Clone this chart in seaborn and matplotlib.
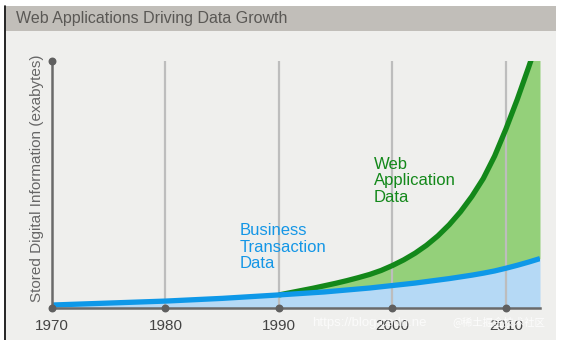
import matplotlib
matplotlib.use("Agg")
import matplotlib.pyplot as plt
import seaborn as sns
import pandas as pd
from matplotlib.patches import Rectangle
from matplotlib.lines import Line2D

# ---- data ----
years = [1970, 1975, 1980, 1985, 1990, 1991, 1992, 1993, 1994, 1995, 1996,
         1997, 1998, 1999, 2000, 2001, 2002, 2003, 2004, 2005, 2006, 2007,
         2008, 2009, 2010, 2011, 2012, 2013]
business = [1.2, 2.0, 2.8, 3.9, 5.3, 5.6, 5.9, 6.2, 6.5, 6.9, 7.3,
            7.7, 8.1, 8.6, 9.1, 9.6, 10.1, 10.7, 11.3, 11.9, 12.6, 13.3,
            14.1, 15.0, 16.1, 17.3, 18.6, 20.0]
web_years = [1990, 1991, 1992, 1993, 1994, 1995, 1996, 1997, 1998, 1999,
             2000, 2001, 2002, 2003, 2004, 2005, 2006, 2007, 2008, 2009,
             2010, 2011, 2012, 2013]
web = [5.3, 6.2, 7.1, 8.0, 9.0, 10.0, 11.1, 12.3, 13.6, 15.2,
       17.2, 19.5, 22.2, 25.4, 29.2, 33.7, 39.0, 45.2, 52.4, 61.5,
       72.5, 84.5, 97.5, 111.0]
tick_years = [1970, 1980, 1990, 2000, 2010]
title = "Web Applications Driving Data Growth"
ylabel = "Stored Digital Information (exabytes)"
label_business = "Business\nTransaction\nData"
label_web = "Web\nApplication\nData"

sns.set_theme(style="white")
plt.rcParams['font.family'] = ['Liberation Sans', 'Noto Sans CJK SC']

W, H = 567, 340
fig = plt.figure(figsize=(W / 100, H / 100), dpi=100, facecolor="white")

def fx(px):
    return px / W

def fy(py):
    return 1 - py / H

# panel background and title band
fig.patches.append(Rectangle((fx(6), 0), fx(556) - fx(6), fy(6), transform=fig.transFigure,
                             facecolor="#efefed", edgecolor="none", zorder=-5))
fig.patches.append(Rectangle((fx(6), fy(31)), fx(556) - fx(6), fy(6) - fy(31),
                             transform=fig.transFigure, facecolor="#c1beb9",
                             edgecolor="none", zorder=-4))
fig.lines.append(Line2D([fx(5), fx(5)], [0, fy(6)], transform=fig.transFigure,
                        color="black", lw=1.2, zorder=-3))
fig.text(fx(16), fy(18.5), title, fontsize=11.5, color="#5a5855", va="center", ha="left")

ax = fig.add_axes([fx(52), fy(308), fx(540) - fx(52), fy(61) - fy(308)])
ax.set_zorder(1)
ax.set_facecolor("none")
ax.patch.set_alpha(0)

df_b = pd.DataFrame({"year": years, "value": business})
df_w = pd.DataFrame({"year": web_years, "value": web})
bus_at_web = [business[years.index(y)] for y in web_years]

# fills
ax.fill_between(years, 0, business, color="#b5d9f5", lw=0, zorder=1)
ax.fill_between(web_years, bus_at_web, web, color="#94d07a", lw=0, zorder=1)

# vertical grid lines
for y in tick_years[1:]:
    ax.axvline(y, color="#bdbdbd", lw=1.6, zorder=2)

# lines
sns.lineplot(data=df_w, x="year", y="value", ax=ax, color="#13881a", lw=3.8,
             zorder=3, solid_capstyle="butt")
sns.lineplot(data=df_b, x="year", y="value", ax=ax, color="#0e98e8", lw=3.8,
             zorder=4, solid_capstyle="butt")

ax.set_xlim(1970, 2013.0)
ax.set_ylim(0, 100)

# spines
for s in ["top", "right"]:
    ax.spines[s].set_visible(False)
for s in ["left", "bottom"]:
    ax.spines[s].set_color("#6a6a6a")
    ax.spines[s].set_linewidth(1.8)
    ax.spines[s].set_zorder(5)

# dots
ax.scatter(tick_years, [0] * len(tick_years), s=22, color="#5f5f5f", zorder=6, clip_on=False)
ax.scatter([1970], [100], s=22, color="#5f5f5f", zorder=6, clip_on=False)

ax.set_xticks(tick_years)
ax.set_xticklabels([str(t) for t in tick_years], fontsize=11, color="#444444")
ax.tick_params(axis="x", length=0, pad=8)
ax.set_yticks([])
ax.set_xlabel("")
ax.set_ylabel(ylabel, fontsize=11, color="#666666")
ax.yaxis.set_label_coords(-0.016, 0.526)

# annotations
fig.text(fx(240), fy(247), label_business, fontsize=12, color="#1496e6",
         ha="left", va="center", linespacing=1.12)
fig.text(fx(374), fy(181), label_web, fontsize=12, color="#13881a",
         ha="left", va="center", linespacing=1.12)

# watermark
fig.text(fx(312), fy(323), "https://blog.csdn.ne", fontsize=9.5, color="white",
         alpha=0.75, ha="left", va="center")
fig.text(fx(452), fy(322), "@稀土掘金技术社区", fontsize=7.5,
         family=['Noto Sans CJK SC', 'DejaVu Sans'], color="white", alpha=0.85,
         ha="left", va="center")

fig.savefig("out.png", dpi=100, facecolor="white")
